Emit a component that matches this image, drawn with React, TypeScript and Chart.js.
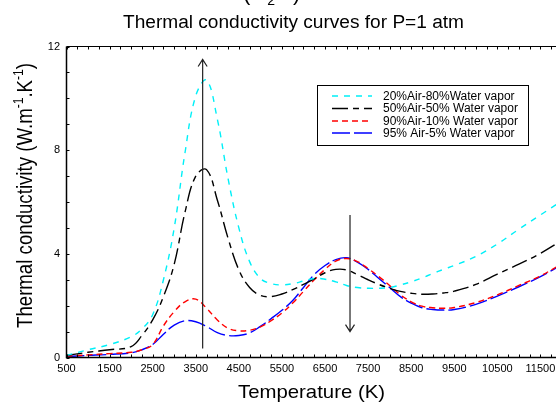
import { useEffect, useRef } from 'react';
import { Chart, registerables } from 'chart.js';

Chart.register(...registerables);

const TEMPS = [500, 1000, 1500, 2000, 2250, 2500, 2750, 3000, 3250, 3500, 3750, 4000, 4250, 4500, 4750, 5000, 5250, 5500, 5750, 6000, 6250, 6500, 6750, 7000, 7250, 7500, 7750, 8000, 8250, 8500, 8750, 9000, 9250, 9500, 10000, 10500, 11000, 11500, 12000];

const AIR20 = [0.08, 0.3, 0.5, 0.8, 1.1, 1.65, 3.0, 5.0, 7.9, 10.1, 10.7, 9.2, 6.9, 5.0, 3.7, 3.05, 2.85, 2.8, 2.85, 2.95, 3.05, 3.02, 2.92, 2.78, 2.7, 2.67, 2.67, 2.7, 2.8, 2.92, 3.07, 3.24, 3.4, 3.55, 3.9, 4.38, 4.95, 5.5, 6.05];
const AIR50 = [0.08, 0.2, 0.3, 0.42, 0.85, 1.45, 2.35, 3.6, 5.6, 7.0, 7.25, 6.08, 4.6, 3.38, 2.7, 2.4, 2.35, 2.45, 2.62, 2.82, 3.03, 3.27, 3.4, 3.38, 3.2, 3.0, 2.82, 2.67, 2.55, 2.48, 2.44, 2.45, 2.49, 2.56, 2.82, 3.22, 3.6, 4.02, 4.52];
const AIR90 = [0.05, 0.1, 0.15, 0.2, 0.3, 0.5, 1.22, 1.77, 2.15, 2.25, 1.9, 1.45, 1.13, 1.03, 1.05, 1.18, 1.42, 1.72, 2.1, 2.55, 3.0, 3.4, 3.72, 3.82, 3.7, 3.43, 3.12, 2.78, 2.42, 2.15, 1.98, 1.92, 1.9, 1.93, 2.12, 2.42, 2.78, 3.15, 3.62];
const AIR95 = [0.04, 0.08, 0.12, 0.18, 0.3, 0.5, 0.9, 1.25, 1.42, 1.38, 1.2, 0.96, 0.85, 0.85, 0.95, 1.2, 1.5, 1.82, 2.2, 2.7, 3.2, 3.55, 3.78, 3.85, 3.68, 3.4, 3.05, 2.7, 2.35, 2.1, 1.92, 1.85, 1.83, 1.85, 2.05, 2.37, 2.73, 3.12, 3.58];

const SERIES_LABELS = ['20%Air-80%Water vapor', '50%Air-50% Water vapor', '90%Air-10% Water vapor', '95% Air-5% Water vapor'];
const X_TICKS = [500, 1500, 2500, 3500, 4500, 5500, 6500, 7500, 8500, 9500, 10500, 11500];
const Y_TICKS = [0, 4, 8, 12];

// arrow annotations in data units: temperature, from value, to value
const UP_ARROW = [3660, 0.35, 11.5];
const DOWN_ARROW = [7080, 5.5, 1.0];

const FONT = "'Liberation Sans', Arial, Helvetica, sans-serif";

function drawStretched(ctx: CanvasRenderingContext2D, text: string, x: number, y: number, size: number, targetW: number) {
  ctx.save();
  ctx.font = `${size}px ${FONT}`;
  const w = ctx.measureText(text).width;
  ctx.translate(x, y);
  ctx.scale(targetW / w, 1);
  ctx.textAlign = 'center';
  ctx.textBaseline = 'alphabetic';
  ctx.fillStyle = '#000';
  ctx.fillText(text, 0, 0);
  ctx.restore();
}

const decorPlugin = {
  id: 'decor',
  afterDatasetsDraw(chart: any) {
    const ctx: CanvasRenderingContext2D = chart.ctx;
    const xs = chart.scales.x;
    const ys = chart.scales.y;
    const { left, right, top, bottom } = chart.chartArea;

    // frame
    ctx.save();
    ctx.strokeStyle = '#000';
    ctx.lineWidth = 1.5;
    ctx.beginPath();
    ctx.moveTo(left, top);
    ctx.lineTo(left, bottom);
    ctx.lineTo(right, bottom);
    ctx.stroke();
    ctx.lineWidth = 1.2;
    ctx.beginPath();
    ctx.moveTo(left, top);
    ctx.lineTo(right, top);
    ctx.stroke();

    // minor ticks
    ctx.lineWidth = 1;
    ctx.beginPath();
    for (let t = 500; t <= 12000; t += 250) {
      const px = Math.round(xs.getPixelForValue(t)) + 0.5;
      ctx.moveTo(px, bottom);
      ctx.lineTo(px, bottom - 3);
      ctx.moveTo(px, top);
      ctx.lineTo(px, top + 3);
    }
    for (let v = 0; v <= 12; v += 1) {
      const py = Math.round(ys.getPixelForValue(v)) + 0.5;
      ctx.moveTo(left, py);
      ctx.lineTo(left + 3, py);
    }
    ctx.stroke();

    // arrows
    const arrow = (a: number[]) => {
      const px = xs.getPixelForValue(a[0]);
      const y0 = ys.getPixelForValue(a[1]);
      const y1 = ys.getPixelForValue(a[2]);
      const dir = y1 < y0 ? 1 : -1;
      ctx.strokeStyle = '#222';
      ctx.lineWidth = 1.2;
      ctx.beginPath();
      ctx.moveTo(px, y0);
      ctx.lineTo(px, y1);
      ctx.moveTo(px - 4.5, y1 + dir * 7);
      ctx.lineTo(px, y1);
      ctx.lineTo(px + 4.5, y1 + dir * 7);
      ctx.stroke();
    };
    arrow(UP_ARROW);
    arrow(DOWN_ARROW);
    ctx.restore();
  },
  afterDraw(chart: any) {
    const ctx: CanvasRenderingContext2D = chart.ctx;
    // cut-off heading at the very top
    ctx.save();
    ctx.fillStyle = '#000';
    ctx.font = `22px ${FONT}`;
    ctx.textBaseline = 'alphabetic';
    ctx.textAlign = 'left';
    let cx = 243;
    ctx.fillText('(H', cx, 0);
    cx += ctx.measureText('(H').width;
    ctx.font = `14px ${FONT}`;
    ctx.fillText('2', cx + 1, 5);
    cx += ctx.measureText('2').width + 2;
    ctx.font = `22px ${FONT}`;
    ctx.fillText('O)', cx, 0);
    ctx.restore();

    // title & x title
    drawStretched(ctx, 'Thermal conductivity curves for P=1 atm', 293.5, 28, 18, 341);
    drawStretched(ctx, 'Temperature (K)', 311.5, 398, 19, 147);

    // y title with superscripts
    ctx.save();
    const parts: [string, boolean][] = [['Thermal conductivity (W.m', false], ['-1', true], ['.K', false], ['-1', true], [')', false]];
    const mainF = `18.5px ${FONT}`;
    const supF = `12px ${FONT}`;
    let total = 0;
    const widths = parts.map(([t, sup]) => {
      ctx.font = sup ? supF : mainF;
      const w = ctx.measureText(t).width;
      total += w;
      return w;
    });
    ctx.translate(31.5, 195.5);
    ctx.rotate(-Math.PI / 2);
    ctx.scale(265 / total, 1.15);
    ctx.fillStyle = '#000';
    ctx.textAlign = 'left';
    ctx.textBaseline = 'alphabetic';
    let pos = -total / 2;
    parts.forEach(([t, sup], i) => {
      ctx.font = sup ? supF : mainF;
      ctx.fillText(t, pos, sup ? -7.5 : 0);
      pos += widths[i];
    });
    ctx.restore();

    // legend box
    ctx.save();
    ctx.fillStyle = '#fff';
    ctx.fillRect(317, 85, 211, 60);
    ctx.strokeStyle = '#000';
    ctx.lineWidth = 1;
    ctx.strokeRect(317.5, 85.5, 211, 60);
    const rows = [96, 108.5, 121, 133];
    chart.data.datasets.forEach((ds: any, i: number) => {
      const y = rows[i];
      ctx.strokeStyle = ds.borderColor;
      ctx.lineWidth = 1.4;
      ctx.setLineDash(ds.borderDash || []);
      ctx.beginPath();
      ctx.moveTo(332, y);
      ctx.lineTo(372, y);
      ctx.stroke();
      ctx.setLineDash([]);
      ctx.fillStyle = '#000';
      ctx.font = `12px ${FONT}`;
      ctx.textAlign = 'left';
      ctx.textBaseline = 'middle';
      ctx.fillText(ds.label, 383, y + 0.5);
    });
    ctx.restore();
  },
};

export default function App() {
  const ref = useRef<HTMLCanvasElement>(null);
  useEffect(() => {
    const mk = (vals: number[]) => TEMPS.map((t, i) => ({ x: t, y: vals[i] }));
    const chart = new Chart(ref.current as HTMLCanvasElement, {
      type: 'line',
      data: {
        datasets: [
          { label: SERIES_LABELS[0], data: mk(AIR20), borderColor: '#00f0f8', borderDash: [6, 6], borderWidth: 1.4, pointRadius: 0, tension: 0.4, fill: false },
          { label: SERIES_LABELS[1], data: mk(AIR50), borderColor: '#000000', borderDash: [16, 5, 6, 5], borderWidth: 1.4, pointRadius: 0, tension: 0.4, fill: false },
          { label: SERIES_LABELS[2], data: mk(AIR90), borderColor: '#ff0000', borderDash: [6, 4], borderWidth: 1.4, pointRadius: 0, tension: 0.4, fill: false },
          { label: SERIES_LABELS[3], data: mk(AIR95), borderColor: '#0000ff', borderDash: [18, 4], borderWidth: 1.4, pointRadius: 0, tension: 0.4, fill: false },
        ],
      },
      options: {
        responsive: false,
        animation: false,
        devicePixelRatio: 1,
        layout: { padding: { top: 46.5, left: 0, right: 0, bottom: 0 } },
        plugins: { legend: { display: false }, title: { display: false }, tooltip: { enabled: false } },
        scales: {
          x: {
            type: 'linear',
            min: 500,
            max: 12000,
            afterBuildTicks: (s: any) => { s.ticks = X_TICKS.map((v) => ({ value: v })); },
            afterFit: (s: any) => { s.height = 44.5; },
            ticks: { color: '#000', font: { family: FONT, size: 11 }, padding: 5, maxRotation: 0, autoSkip: false, callback: (v: any) => String(v) },
            grid: { display: false, drawTicks: false },
            border: { display: false },
          },
          y: {
            type: 'linear',
            min: 0,
            max: 12,
            afterBuildTicks: (s: any) => { s.ticks = Y_TICKS.map((v) => ({ value: v })); },
            afterFit: (s: any) => { s.width = 66.5; },
            ticks: { color: '#000', font: { family: FONT, size: 11 }, padding: 6.5, autoSkip: false, callback: (v: any) => String(v) },
            grid: { display: false, drawTicks: false },
            border: { display: false },
          },
        },
      },
      plugins: [decorPlugin],
    } as any);
    return () => chart.destroy();
  }, []);
  return (
    <div style={{ position: 'fixed', left: 0, top: 0, width: 556, height: 402, overflow: 'hidden', background: '#fff' }}>
      <canvas ref={ref} width={562} height={402} style={{ display: 'block', width: 562, height: 402 }} />
    </div>
  );
}
